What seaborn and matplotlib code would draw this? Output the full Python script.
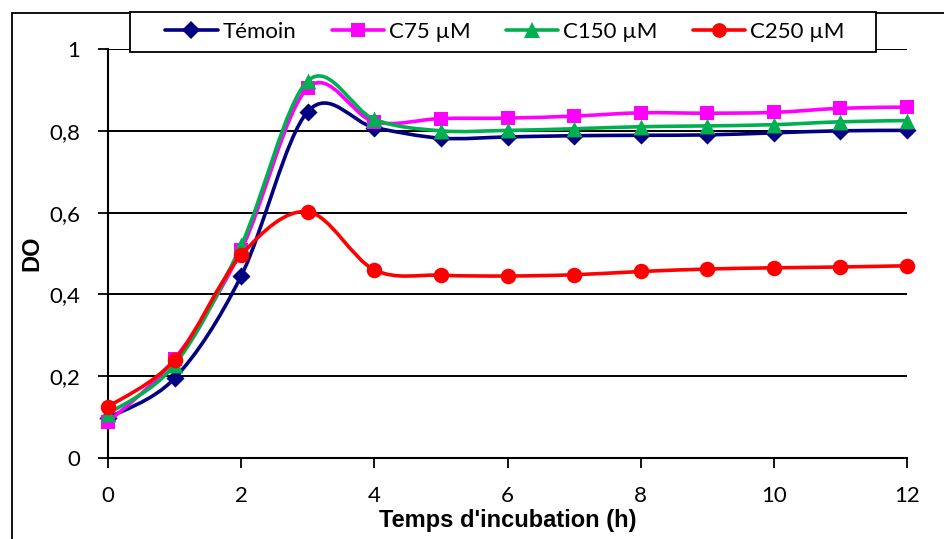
import numpy as np
import pandas as pd
import matplotlib
matplotlib.use("Agg")
import matplotlib.pyplot as plt
import seaborn as sns
from matplotlib.path import Path
from matplotlib.patches import PathPatch, Rectangle
from matplotlib.lines import Line2D

# ---------------- data ----------------
hours = [0, 1, 2, 3, 4, 5, 6, 7, 8, 9, 10, 11, 12]
temoin = [0.098, 0.195, 0.445, 0.847, 0.808, 0.782, 0.785, 0.788, 0.789, 0.790, 0.795, 0.800, 0.801]
c75 = [0.088, 0.242, 0.508, 0.905, 0.822, 0.830, 0.831, 0.836, 0.844, 0.843, 0.845, 0.855, 0.858]
c150 = [0.108, 0.228, 0.520, 0.922, 0.828, 0.800, 0.801, 0.805, 0.810, 0.812, 0.815, 0.822, 0.825]
c250 = [0.125, 0.240, 0.496, 0.602, 0.460, 0.447, 0.445, 0.448, 0.456, 0.462, 0.465, 0.467, 0.470]
series_names = ["Témoin", "C75 µM", "C150 µM", "C250 µM"]
y_ticks = [0, 0.2, 0.4, 0.6, 0.8, 1.0]
y_tick_labels = ["0", "0,2", "0,4", "0,6", "0,8", "1"]
x_ticks = [0, 2, 4, 6, 8, 10, 12]
x_label = "Temps d'incubation (h)"
y_label = "DO"

colors = ["#000080", "#FF00FF", "#00B050", "#FF0000"]
markers = ["D", "s", "^", "o"]
msizes = [85, 100, 130, 125]

sns.set_theme(style="white")
FONT = ["Lato", "DejaVu Sans"]
plt.rcParams["font.family"] = FONT
plt.rcParams["text.color"] = "black"
plt.rcParams["axes.labelcolor"] = "black"
plt.rcParams["xtick.color"] = "black"
plt.rcParams["ytick.color"] = "black"

W, H = 944, 539
fig = plt.figure(figsize=(W / 100, H / 100), dpi=100)
ax = fig.add_axes([108 / W, 1 - 458 / H, (907 - 108) / W, (458 - 49) / H])

df = pd.DataFrame({"h": hours * 4,
                   "DO": temoin + c75 + c150 + c250,
                   "serie": sum([[n] * len(hours) for n in series_names], [])})


def smooth_path(xs, ys):
    P = np.column_stack([xs, ys]).astype(float)
    n = len(P)
    verts = [tuple(P[0])]
    codes = [Path.MOVETO]
    for i in range(n - 1):
        p0 = P[max(i - 1, 0)]
        p1 = P[i]
        p2 = P[i + 1]
        p3 = P[min(i + 2, n - 1)]
        c1 = p1 + (p2 - p0) / 6.0
        c2 = p2 - (p3 - p1) / 6.0
        verts += [tuple(c1), tuple(c2), tuple(p2)]
        codes += [Path.CURVE4] * 3
    return Path(verts, codes)


handles = []
for i, name in enumerate(series_names):
    sub = df[df["serie"] == name]
    patch = PathPatch(smooth_path(sub["h"], sub["DO"]), facecolor="none",
                      edgecolor=colors[i], lw=2.6, zorder=3 + 2 * i, clip_on=False,
                      capstyle="round", joinstyle="round")
    ax.add_patch(patch)
    sns.scatterplot(data=sub, x="h", y="DO", marker=markers[i], s=msizes[i],
                    color=colors[i], edgecolor=colors[i], linewidth=0,
                    zorder=4 + 2 * i, clip_on=False, ax=ax, legend=False)
    handles.append(Line2D([0], [0], color=colors[i], lw=2.6, marker=markers[i],
                          markersize=np.sqrt(msizes[i]) * 0.95, markeredgewidth=0))

ax.set_xlim(0, 12)
ax.set_ylim(0, 1)
ax.set_xticks(x_ticks)
ax.set_xticklabels([str(t) for t in x_ticks])
ax.set_yticks(y_ticks)
ax.set_yticklabels(y_tick_labels)
ax.tick_params(axis="both", labelsize=16, colors="black", length=7, width=1.3,
               direction="out")
ax.tick_params(axis="y", left=True, pad=13)
ax.tick_params(axis="x", bottom=True, pad=13)
for t in y_ticks[1:]:
    ax.axhline(t, color="black", lw=1.4, zorder=1)
for s in ["top", "right"]:
    ax.spines[s].set_visible(False)
for s in ["left", "bottom"]:
    ax.spines[s].set_color("black")
    ax.spines[s].set_linewidth(1.5)
ax.set_xlabel(x_label, fontsize=17, fontweight="bold",
              family=["Liberation Sans", "DejaVu Sans"])
ax.xaxis.set_label_coords(0.5, -(509 - 458) / 409)
ax.set_ylabel(y_label, fontsize=17, fontweight="bold", labelpad=4,
              family=["Liberation Sans", "DejaVu Sans"])

# legend box (drawn as figure rectangle) and centred legend entries
fig.add_artist(Rectangle((130 / W, 1 - 52 / H), (876 - 130) / W, 40 / H,
                         transform=fig.transFigure, facecolor="white",
                         edgecolor="black", lw=1.3, zorder=5))
leg = fig.legend(handles, series_names, loc="center",
                 bbox_to_anchor=((130 + 876) / 2 / W + 2 / W, 1 - 32 / H),
                 ncol=4, frameon=False, fontsize=16,
                 handlelength=2.35, handletextpad=0.22, columnspacing=1.6,
                 borderpad=0.0, borderaxespad=0.0)
leg.set_zorder(6)

# outer chart frame (partially visible)
fig.add_artist(Line2D([12 / W, 12 / W], [0, 1 - 13 / H], color="black", lw=1.3,
                      transform=fig.transFigure, zorder=0))
fig.add_artist(Line2D([12 / W, 1], [1 - 13 / H, 1 - 13 / H], color="black", lw=1.3,
                      transform=fig.transFigure, zorder=0))

fig.savefig("out.png", dpi=100)
